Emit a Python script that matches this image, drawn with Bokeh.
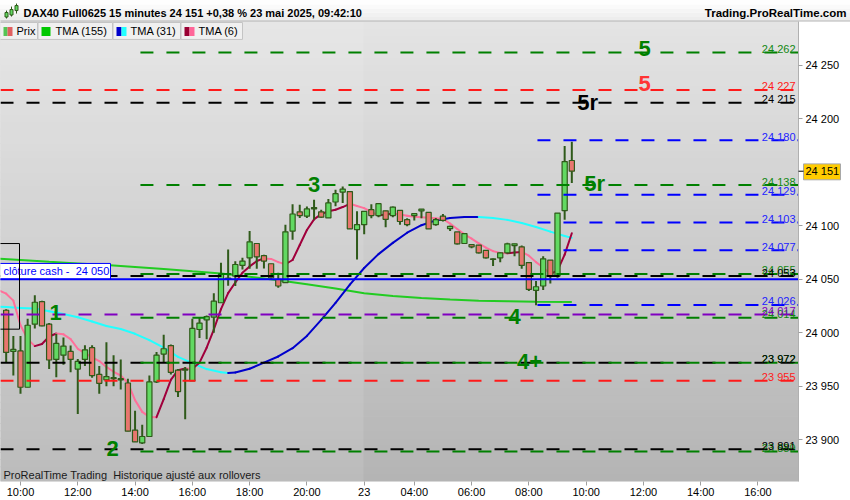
from bokeh.plotting import figure
from bokeh.models import Range1d, FixedTicker
from bokeh.embed import file_html
from bokeh.resources import INLINE
from bokeh.core.properties import value

# ---------------- data (15-minute bars, slot 0 = 22 May 10:00) ----------------
slot = list(range(-2, 78))
open_ = [24021, 23982.5, 23983, 23949, 24008, 24029, 24008, 23975, 23979, 23982.5,
         23966, 23975, 23986, 23961, 23956, 23957, 23957, 23953, 23909, 23897,
         23903, 23954, 23980, 23988, 23965, 23966, 23955, 24003, 24012, 24014.5,
         24028, 24050, 24053, 24063, 24070, 24083.4, 24072, 24064.5, 24050, 24046.8,
         24095, 24113, 24109, 24115.7, 24113, 24107.3, 24122.2, 24131.5, 24132, 24096.4,
         24101, 24115, 24109.5, 24114, 24109.5, 24114.4, 24105.7, 24109.5, 24114, 24112.5,
         24101, 24109, 24097.3, 24094.2, 24083.4, 24082.4, 24081.8, 24076.9, 24068.5, 24070,
         24074.7, 24081.5, 24080.3, 24065.6, 24039.6, 24043.7, 24067.9, 24053, 24114.1, 24161]
high = [24022, 23997, 23997, 24013, 24035, 24030, 24009, 23999, 23995.6, 23988,
        23975.4, 23988.4, 23988.4, 23969, 23991, 23979, 23975, 23957, 23927, 23914,
        23960, 23982, 23998, 23989, 23966, 23968, 24013, 24014, 24016, 24037,
        24065.4, 24077.8, 24066.9, 24070, 24095, 24083.4, 24073, 24064.5, 24056, 24101,
        24120, 24119.7, 24118, 24124.4, 24115, 24125, 24133.7, 24136.8, 24132, 24113.5,
        24113.5, 24120, 24121, 24114, 24118, 24114.4, 24107, 24112, 24115.7, 24112.5,
        24107.3, 24111, 24100, 24094.2, 24093, 24082.5, 24081.8, 24076.9, 24069.5, 24075,
        24084, 24083.1, 24081.5, 24065.6, 24048.3, 24071.6, 24067.9, 24111.9, 24174.6, 24178.6]
low = [23972, 23960, 23943, 23949, 24004, 24006, 23966, 23958.3, 23970, 23963,
       23924, 23969, 23958, 23943, 23950, 23950, 23947, 23908, 23898, 23896,
       23903, 23953, 23972, 23961, 23940, 23919, 23955, 23995, 23994, 24000,
       24028, 24044, 24043.6, 24059, 24059.8, 24059.8, 24060, 24050, 24042, 24046.8,
       24087, 24107.3, 24107.3, 24105.8, 24107.3, 24107.3, 24118.2, 24121.3, 24097, 24068.5,
       24092, 24107, 24108, 24098.5, 24108, 24101, 24099.5, 24105, 24107, 24097,
       24100, 24104, 24095, 24082.5, 24083, 24079, 24074, 24069.5, 24062.3, 24066,
       24074, 24071.6, 24059.8, 24039, 24025.7, 24039.9, 24046.1, 24051.4, 24105.7, 24139.9]
close = [23981.6, 23984.4, 23949, 24007, 24028.5, 24006.4, 23974.5, 23990, 23987.5, 23975,
         23973.2, 23984, 23959.9, 23952.7, 23959, 23958, 23956, 23908, 23898, 23903,
         23954, 23979, 23985, 23963, 23945, 23965, 24004, 24009, 24015, 24029.5,
         24054.5, 24051, 24063.8, 24067, 24085, 24071, 24067, 24051.4, 24043.7, 24094.3,
         24111, 24109.5, 24115.7, 24117, 24108, 24121.3, 24130, 24134.3, 24097.1, 24101,
         24113.5, 24109.5, 24120.6, 24106, 24117.5, 24104, 24101, 24111.3, 24115.5, 24097,
         24105.7, 24105, 24099.5, 24083.1, 24092.7, 24080.3, 24074.7, 24070, 24069, 24074.7,
         24083.1, 24083.1, 24062.9, 24040.5, 24043, 24069.1, 24053, 24111.9, 24160, 24151]

tma155_slot = [-3, 0, 4, 8, 12, 16, 20, 24, 28, 32, 36, 40, 44, 48, 52, 56, 60, 64, 68, 72, 77]
tma155 = [24069.3, 24068.0, 24066.3, 24064.8, 24063.2, 24061.5, 24059.6, 24057.4, 24055.3,
          24052.4, 24049.0, 24045.3, 24041.4, 24037.0, 24034.4, 24032.5, 24031.0, 24030.0,
          24029.4, 24029.0, 24028.8]

tma31_slot = [-3, -2, 0, 2, 4, 6, 8, 10, 12, 14, 16, 18, 20, 22, 24, 26, 28, 29, 30, 32, 34,
              36, 38, 40, 42, 44, 46, 48, 50, 52, 54, 56, 58, 60, 62, 64, 66, 68, 70, 72, 74, 76, 77]
tma31 = [24024.3, 24024.0, 24023.2, 24022.6, 24020.0, 24017.5, 24014.5, 24010.5, 24006.3,
         24003.5, 23999.0, 23993.0, 23986.0, 23977.5, 23971.5, 23966.0, 23963.0, 23962.3,
         23962.8, 23966.3, 23972.0, 23977.8, 23985.5, 23997.0, 24012.0, 24028.0, 24045.0,
         24060.5, 24073.5, 24084.0, 24093.5, 24100.5, 24105.0, 24107.3, 24108.2, 24108.3,
         24107.2, 24105.5, 24102.5, 24098.8, 24094.5, 24090.5, 24088.7]

tma6_slot = list(range(-3, 78))
tma6 = [24039.5, 24036.5, 24030.0, 24007.0, 23994.0, 23987.5, 23989.5, 23996.5, 23999.3,
        23998.5, 23994.0, 23985.0, 23981.0, 23977.0, 23973.5, 23968.0, 23963.5, 23960.0,
        23953.0, 23937.0, 23926.0, 23921.3, 23921.0, 23938.0, 23956.0, 23965.0, 23966.6,
        23966.3, 23972.0, 23986.0, 24003.0, 24022.0, 24037.0, 24047.0, 24056.0, 24062.0,
        24067.0, 24069.5, 24069.0, 24066.0, 24064.0, 24068.0, 24082.0, 24096.0, 24106.0,
        24111.0, 24113.5, 24115.0, 24117.5, 24120.5, 24118.5, 24116.5, 24113.0, 24109.5,
        24110.5, 24111.5, 24110.5, 24109.3, 24108.5, 24108.0, 24107.5, 24107.0, 24106.4,
        24102.0, 24097.0, 24092.0, 24088.0, 24083.5, 24079.5, 24076.3, 24074.5, 24074.2,
        24075.0, 24075.5, 24072.0, 24066.0, 24061.0, 24055.0, 24058.0, 24073.0, 24093.0]

# horizontal levels (price) and the slot where each family of lines begins
green_levels = [24262, 24138, 24055, 24014, 23972, 23889]
red_levels = [24227, 23955]
black_levels = [24215, 24053, 23972, 23891]
blue_levels = [24180, 24129, 24103, 24077, 24026]
purple_levels = [24017]
cash_close = 24050
green_start = 16.75
blue_start = 72.2

wave_text = ["5", "5", "5r", "5r", "3", "1", "2", "4", "4+"]
wave_slot = [87.15, 87.15, 79.2, 80.2, 41.0, 4.9, 12.85, 69.0, 71.1]
wave_price = [24265.4, 24232.8, 24215.1, 24139.7, 24138.3, 24018.7, 23892.0, 24015.0, 23973.5]

last_price = 24151

x_tick_slot = [0, 8, 16, 24, 32, 40, 48, 55, 63, 71, 79, 87, 95, 103]
x_tick_label = ["10:00", "12:00", "14:00", "16:00", "18:00", "20:00", "23",
                "04:00", "06:00", "08:00", "10:00", "12:00", "14:00", "16:00"]
y_tick = [23900, 23950, 24000, 24050, 24100, 24200, 24250]

NBSP = "\u00a0"
title_text = "DAX40 Full0625 15 minutes 24 151 +0,38 % 23 mai 2025, 09:42:10"
site_text = "Trading.ProRealTime.com"
footer_text = "ProRealTime Trading " + NBSP + "Historique ajust\u00e9 aux rollovers"
cash_text = "cl\u00f4ture cash - " + NBSP
legend_names = ["Prix", "TMA (155)", "TMA (31)", "TMA (6)"]

# ---------------- styles ----------------
FONT = "Liberation Sans"
C_GREEN = "#008000"
C_RED = "#ff1a1a"
C_BLACK = "#000000"
C_BLUE = "#0000ff"
C_PURPLE = "#8000c0"
WAVE_COLORS = [C_GREEN, "#ff3333", C_BLACK, C_GREEN, C_GREEN, C_GREEN, C_GREEN, C_GREEN, C_GREEN]
UP_FILL, DN_FILL, WICK = "#62d962", "#e8766e", "#2f5a1a"


# helpers converting screen positions of UI furniture into the chart's units
def px2s(px):
    return (px - 20) / 7.16


def py2p(py):
    return 24250 - (py - 65) / 1.0743


def fmt(v):
    return f"{v:,.0f}".replace(",", " ")


s_left, s_right = px2s(0), px2s(798)
y_top, y_bot = py2p(21), py2p(483)

p = figure(width=850, height=500, x_range=Range1d(s_left, s_right), y_range=Range1d(y_bot, y_top),
           output_backend="svg", toolbar_location=None, y_axis_location="right",
           min_border_left=0, min_border_right=52, min_border_top=21, min_border_bottom=17)
p.outline_line_color = None
p.border_fill_color = "white"
p.background_fill_color = "#cccccc"
p.xgrid.visible = False
p.ygrid.visible = False

# background gradient
n_bands = 64
edges = [y_bot + (y_top - y_bot) * i / n_bands for i in range(n_bands + 1)]
band_col = []
for i in range(n_bands):
    t = (i + 0.5) / n_bands
    g = round(180 + (228 - 180) * t)
    band_col.append("#%02x%02x%02x" % (g, g, g))
p.quad(left=s_left - 2, right=s_right + 2, bottom=edges[:-1], top=[e + 0.6 for e in edges[1:]],
       fill_color=band_col, line_color=None)
# lighter shade for the previous day
p.quad(left=s_left - 2, right=47.9, bottom=y_bot - 20, top=y_top + 20,
       fill_color="white", fill_alpha=0.1, line_color=None)


# moving averages, coloured by direction
def slope_segments(xs, ys, up, down):
    cols = [up if b > a else down for a, b in zip(ys[:-1], ys[1:])]
    p.segment(x0=xs[:-1], y0=ys[:-1], x1=xs[1:], y1=ys[1:], line_color=cols,
              line_width=2, line_cap="round")


p.line(tma155_slot, tma155, line_color="#22cc22", line_width=2)
slope_segments(tma31_slot, tma31, "#0000cc", "#22ffff")
slope_segments(tma6_slot, tma6, "#a0003c", "#ff709a")

# candles
body_top = [max(o, c) for o, c in zip(open_, close)]
body_bot = [min(o, c) for o, c in zip(open_, close)]
body_col = [UP_FILL if c >= o else DN_FILL for o, c in zip(open_, close)]
p.segment(x0=slot, x1=slot, y0=low, y1=high, line_color=WICK, line_width=2)
p.vbar(x=slot, width=0.72, top=body_top, bottom=body_bot, fill_color=body_col,
       line_color=WICK, line_width=1.2)


# levels
def draw_levels(prices, start, color):
    p.segment(x0=start, x1=s_right + 1, y0=prices, y1=prices, line_color=color,
              line_width=2, line_dash="13 13")


draw_levels(red_levels, s_left, C_RED)
draw_levels(black_levels, s_left, C_BLACK)
draw_levels(purple_levels, s_left, C_PURPLE)
draw_levels(blue_levels, blue_start, C_BLUE)
draw_levels(green_levels, green_start, C_GREEN)

# cash close line with its box
p.quad(left=s_left - 1, right=px2s(110), bottom=cash_close, top=py2p(264),
       fill_color="white", line_color=C_BLUE, line_width=1)
p.segment(x0=s_left - 1, x1=s_right + 1, y0=cash_close, y1=cash_close, line_color=C_BLUE, line_width=2)
p.text(x=px2s(3), y=py2p(272), text=[cash_text + fmt(cash_close)],
       text_font=value(FONT), text_font_size=value("11px"), text_color=C_BLUE,
       text_baseline="middle", text_align="left")

# black frame on the left
p.quad(left=s_left - 1, right=px2s(19), top=py2p(244), bottom=py2p(330),
       fill_color=None, line_color="black", line_width=1)

for levels, col in [(green_levels, "#118811"), (red_levels, C_RED), (black_levels, C_BLACK),
                    (blue_levels, "#2222ff"), (purple_levels, C_PURPLE)]:
    p.text(x=px2s(795), y=levels, text=[fmt(v) for v in levels], text_align="right",
           text_baseline="alphabetic", y_offset=-3.5, text_font=value(FONT),
           text_font_size=value("11px"), text_color=col)

# wave labels
p.text(x=wave_slot, y=wave_price, text=wave_text, text_color=WAVE_COLORS,
       text_font=value(FONT), text_font_size=value("22px"), text_font_style=value("bold"),
       text_align="center", text_baseline="middle")

# footer text
p.text(x=px2s(3), y=py2p(476), text=[footer_text],
       text_font=value(FONT), text_font_size=value("11px"), text_color="#1a1a1a",
       text_baseline="middle", text_align="left")

# legend row
cell_l = [px2s(-2), px2s(37.5), px2s(112.5), px2s(180.5)]
cell_r = [px2s(37), px2s(112), px2s(180), px2s(242)]
p.quad(left=cell_l, right=cell_r, bottom=py2p(39), top=py2p(22), fill_color="#f0f0f0",
       line_color="#c4c4c4", line_width=1)
sw_l = [px2s(3), px2s(7), px2s(41), px2s(116), px2s(121), px2s(184), px2s(189)]
sw_r = [px2s(7), px2s(12), px2s(50), px2s(121), px2s(126), px2s(189), px2s(194)]
sw_c = ["#55c455", "#e06060", "#00c800", "#0000cc", "#22ffff", "#990033", "#ff6699"]
p.quad(left=sw_l, right=sw_r, bottom=py2p(35.5), top=py2p(26.5), fill_color=sw_c, line_color=None)
p.text(x=[px2s(16), px2s(55), px2s(130), px2s(198)], y=py2p(31), text=legend_names,
       text_font=value(FONT), text_font_size=value("11px"), text_color="black",
       text_baseline="middle", text_align="left")

# ---- header row and price tag: drawn on the overlay level (outside the frame) ----
hb = 5
h_edges = [py2p(20.5 * i / hb) for i in range(hb + 1)]
h_cols = ["#fefefe", "#fafafa", "#f5f5f5", "#f1f1f1", "#ededed"]
p.quad(left=px2s(-1), right=px2s(851), top=h_edges[:-1], bottom=h_edges[1:],
       fill_color=h_cols, line_color=None, level="overlay")
p.segment(x0=px2s(0), x1=px2s(850), y0=py2p(20.5), y1=py2p(20.5), line_color="#b4b4b4",
          line_width=1, level="overlay")
# little candlestick icon
p.segment(x0=[px2s(6), px2s(11), px2s(16)], x1=[px2s(6), px2s(11), px2s(16)],
          y0=[py2p(18), py2p(16), py2p(13)], y1=[py2p(10), py2p(6), py2p(3)],
          line_color=WICK, line_width=1, level="overlay")
p.quad(left=[px2s(4.5), px2s(9.5), px2s(14.5)], right=[px2s(7.5), px2s(12.5), px2s(17.5)],
       top=[py2p(12), py2p(9), py2p(5)], bottom=[py2p(16.5), py2p(14.5), py2p(10)],
       fill_color=UP_FILL, line_color=WICK, line_width=1, level="overlay")
p.text(x=px2s(23), y=py2p(12), text=[title_text], text_font=value(FONT),
       text_font_size=value("11px"), text_font_style=value("bold"), text_color="black",
       text_baseline="middle", text_align="left", level="overlay")
p.text(x=px2s(846), y=py2p(12), text=[site_text], text_font=value(FONT),
       text_font_size=value("11.5px"), text_font_style=value("bold"), text_color="black",
       text_baseline="middle", text_align="right", level="overlay")
# current price tag on the price scale
p.quad(left=px2s(803), right=px2s(840), top=py2p(164), bottom=py2p(180), fill_color="#ffcc00",
       line_color="#a8a8a8", line_width=1, level="overlay")
p.segment(x0=px2s(798), x1=px2s(803), y0=last_price, y1=last_price, line_color="black",
          line_width=1, level="overlay")
p.text(x=px2s(805), y=last_price, text=[fmt(last_price)], text_font=value(FONT),
       text_font_size=value("11px"), text_color="black", text_baseline="middle",
       text_align="left", level="overlay")

# axes
p.xaxis.ticker = FixedTicker(ticks=x_tick_slot)
p.xaxis.major_label_overrides = {s: lab for s, lab in zip(x_tick_slot, x_tick_label)}
p.xaxis.axis_line_color = None
p.xaxis.major_tick_line_color = "#a0a0a0"
p.xaxis.major_tick_out = 4
p.xaxis.major_tick_in = 0
p.xaxis.minor_tick_line_color = None
p.xaxis.major_label_standoff = 0
p.xaxis.major_label_text_font = FONT
p.xaxis.major_label_text_font_size = "11px"
p.xaxis.major_label_text_color = "black"

p.yaxis.ticker = FixedTicker(ticks=y_tick)
p.yaxis.major_label_overrides = {v: fmt(v) for v in y_tick}
p.yaxis.axis_line_color = "#b0b0b0"
p.yaxis.major_tick_line_color = "#a0a0a0"
p.yaxis.major_tick_out = 4
p.yaxis.major_tick_in = 0
p.yaxis.minor_tick_line_color = None
p.yaxis.major_label_standoff = 3
p.yaxis.major_label_text_font = FONT
p.yaxis.major_label_text_font_size = "11px"
p.yaxis.major_label_text_color = "black"

open("out.html", "w", encoding="utf-8").write(file_html(p, INLINE, title="DAX40"))
